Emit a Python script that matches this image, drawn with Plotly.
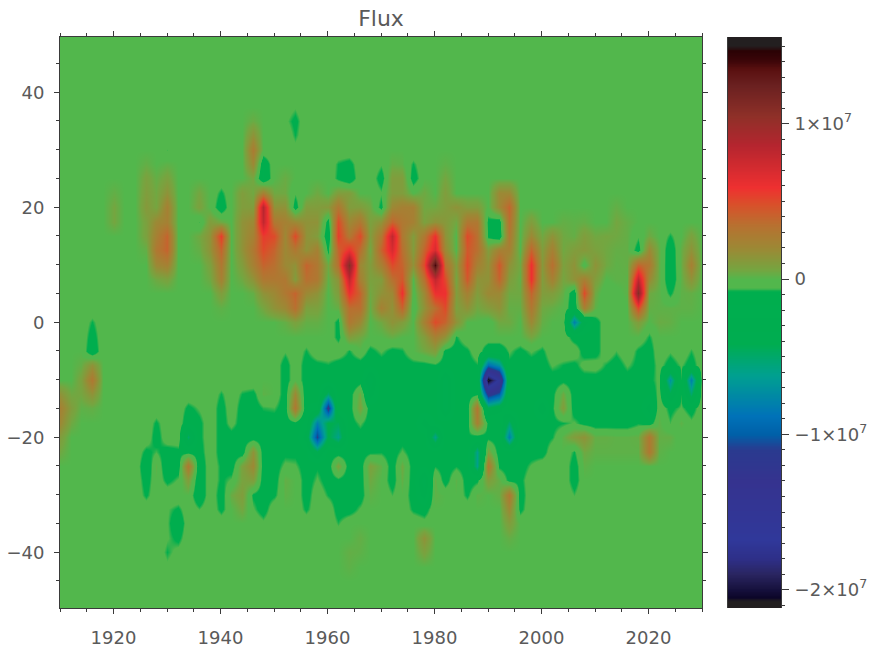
import numpy as np
import plotly.graph_objects as go

years = list(range(1910, 2032, 2))
lats = [50, 47.5, 45, 42.5, 40] + [37.5 - 2.5 * i for i in range(33)] + [-45, -47.5, -50]

# Flux in units of 1e6. Columns: 1910..2028 every 2 years, rows: latitude 37.5 .. -42.5
flux_rows = [
 # 37.5
 [0,0,0,0,0,0,0,0,0,0, 0,0,0,0,0,0,0,0,0,0, 0,-.2,-.5,0,0,0,0,0,0,0, 0,0,0,0,0,0,0,0,0,0, 0,0,0,0,0,0,0,0,0,0, 0,0,0,0,0,0,0,0,0,0],
 # 35
 [0,0,0,0,0,0,0,0,0,0, 0,0,0,0,0,0,0,0,.4,0, 0,-.4,-1,0,0,0,0,0,0,0, 0,0,0,0,0,0,0,0,0,0, 0,0,0,0,0,0,0,0,0,0, 0,0,0,0,0,0,0,0,0,0],
 # 32.5
 [0,0,0,0,0,0,0,0,0,0, 0,0,0,0,0,0,0,0,1.5,0, 0,0,-.8,0,0,0,0,0,0,0, 0,0,0,0,0,0,0,0,0,0, 0,0,0,0,0,0,0,0,0,0, 0,0,0,0,0,0,0,0,0,0],
 # 30
 [0,0,0,0,0,0,0,0,0,0, -.6,0,0,0,0,0,0,0,2.8,0, 0,0,-.3,0,0,0,0,0,0,0, 0,0,0,0,0,0,0,0,0,0, 0,0,0,0,0,0,0,0,0,0, 0,0,0,0,0,0,0,0,0,0],
 # 27.5
 [0,0,0,0,0,0,0,0,.3,0, .2,0,0,0,0,0,0,0,2,-1.6, 0,0,0,0,0,0,-.8,-1.1,0,0, -.5,.3,.2,-.8,0,0,.2,0,0,0, 0,0,0,0,0,0,0,0,0,0, 0,0,0,0,0,0,0,0,0,0],
 # 25
 [0,0,0,0,0,0,0,0,.8,.3, .8,0,0,0,0,0,0,0,.6,-1.8, 0,.4,0,0,0,0,-.9,-1.5,0,0, -1.2,1,1,-1.2,0,0,.6,0,0,0, 0,0,0,0,0,0,0,0,0,0, 0,0,0,0,0,0,0,0,0,0],
 # 22.5
 [0,0,0,0,0,.3,0,0,1,.5, 1.5,0,0,.6,0,-.9,0,1,.5,2.5, .5,.5,-.5,0,.5,0,1,1,0,0, -.5,1,1,0,.5,0,1,0,0,0, 0,2,2,0,0,0,0,0,0,0, 0,0,0,0,0,0,0,0,0,0],
 # 20
 [0,0,0,0,0,.6,0,0,1.2,.6, 2.5,0,0,.8,0,-1.4,0,1,1,8.5, 1.5,1.5,-1.2,1,1,1.2,3,1,1,.5, -1,2,2.5,2.5,.5,.5,1,1.5,1,1, 0,2,4,0,0,0,0,0,0,0, 0,0,.3,0,0,0,0,0,0,0],
 # 17.5
 [0,0,0,0,0,.6,0,0,.8,2, 2.5,0,0,-.6,1,.5,0,1.5,2,8, 3,2.5,2,1.5,1.5,-1.2,5,2,3,.8, 1.5,4,3,2.5,.8,1.5,1.2,.5,3,3, -1,-1.4,3.5,0,1,0,0,.3,.2,.3, 0,0,.6,.3,0,0,0,0,0,0],
 # 15
 [0,0,0,0,0,0,0,0,.8,2.5, 4,0,0,.5,1.5,5.5,0,1.5,2.5,5.5, 5,2,5,1.5,1,-1.6,5.5,3,5,1, 3,8,3,1,3,6,1.5,0,5,3.5, -.9,-1.6,3,0,2,.5,1.5,.5,.3,1, .5,.6,.5,.3,-.5,.5,0,-.8,0,.8],
 # 12.5
 [0,0,0,0,0,0,0,0,.3,3, 4,0,0,.3,1.5,4,0,1.5,3,5, 4,2,3,1.5,2.5,-1,4,6,3.5,.5, 4,7,3.5,1,4,7,2,0,4.5,3.5, 1,2.5,2.5,0,4,1,2.5,.5,1,1.2, .8,.5,.3,.3,-1.2,2,.3,-1.5,.3,1.5],
 # 10
 [0,0,0,0,0,0,0,0,0,2, 2.5,0,0,0,.8,3,0,1,2.5,4, 3.5,2,1.5,4,3,.5,3.5,11,2,1, 2.5,5,4,1.5,5,14,3.5,1,5,2.5, 1.5,4.5,1.5,.5,6,1.2,3.5,.8,1.5,-.3, 1.5,.5,.2,.3,4,3,.3,-1.6,.3,2.5],
 # 7.5
 [0,0,0,0,0,0,0,0,0,.5, .8,0,0,0,.5,2.5,0,.5,1.5,3, 3,3,1,3.5,3,.2,1.5,8,2.5,.8, 1,3.5,4.5,0,3.5,8,5,.6,4.5,1.5, 1.5,4,1,.3,6,1,2.5,.6,1.5,2.5, 1,0,.2,.2,8,2,.3,-1.6,.2,1.5],
 # 5
 [0,0,0,-.4,0,0,0,0,0,0, 0,0,0,0,0,1,0,0,.3,1.5, 2,3,4,2,1.5,0,1,6,4,.5, 1.5,2,6,-.3,2,6,6,1,2.5,1, 2,2,.5,.5,4,1,1,.3,-1.5,5, .5,-.5,-.2,.2,11,.5,.2,-.9,.2,.3],
 # 2.5
 [0,0,0,0,0,0,0,0,0,0, 0,0,0,0,0,.2,0,0,0,.6, 1.5,2,3.5,.8,.8,0,.3,3.5,3.5,.3, 2.5,1.5,4,-.5,1.5,3.5,5,.8,1.5,.5, 1,1.5,.3,.3,3,.5,.3,0,-1.6,2.5, .2,-.5,-.4,0,5,.3,.2,.2,.2,.2],
 # 0
 [0,0,0,-.8,0,0,0,0,0,0, 0,0,0,0,0,0,0,0,0,0, 0,.3,.8,.3,.3,0,-1,3,2,0, .5,1.5,1,0,2.5,5,4,1.5,0,0, -.3,.5,.5,0,2,.3,0,0,-8,-3, -1.2,0,0,0,1,0,.4,.3,0,0],
 # -2.5
 [0,0,0,-1.2,0,0,0,0,0,0, 0,0,0,0,0,0,0,0,0,0, 0,0,0,0,0,0,-1,1,.5,0, 0,.3,0,0,1,2.5,1.5,-.8,0,0, 0,0,0,0,.6,0,0,0,-1.2,-1.2, -1.2,0,0,0,0,-.8,0,0,0,0],
 # -5
 [0,0,0,-1.5,0,0,0,0,0,0, 0,0,0,0,0,0,0,0,0,0, 0,-.5,0,-.8,0,0,0,-.8,0,-1, -.5,-1,-.8,0,.5,1,-1,-1.2,-.9,0, -1.6,-1.6,-.5,-1,-.5,-.9,0,0,0,-1.2, -1.2,0,-.6,0,-.9,-1.2,0,-.5,0,-.7],
 # -7.5
 [0,0,.3,1.5,0,0,0,0,0,0, 0,0,0,0,0,0,0,0,0,0, 0,-1.2,0,-1.2,-1,-.8,-1.2,-1.2,-1.2,-1.5, -1.2,-1.2,-1.2,-1,-1,-.8,-1.2,-1.2,-1.2,-.8, -9,-7,-1,-1.2,-1.2,-1.2,-.5,-.8,-1,-.3, -.2,-.8,-1.2,-.5,-1,-1.2,-.3,-1.2,-.5,-1.2],
 # -10
 [0,0,.8,3,0,0,0,0,0,0, 0,0,0,0,0,0,0,0,0,0, 0,-1.2,0,-1.2,-1.2,-1.2,-1.2,-1.6,-1.2,-4, -1.2,-1.2,-1.2,-1.2,-1.2,-1.2,-4,-1.2,-1.2,-.9, -21,-16,-1.2,-1.2,-1.2,-1.2,-1.2,-1,-1.2,-1.2, -1.2,-1.2,-1.2,-1.2,-1.2,-1,-.4,-7,-.8,-8],
 # -12.5
 [1.5,.5,.6,1.5,0,0,0,0,0,0, 0,0,0,0,0,-.8,0,-.8,-1,.2, 0,-1.2,2,-1.6,-1.2,-5,-1.2,-1.2,.5,-3, -1.2,-1.2,-1.4,-1.2,-1.2,-1.2,-4,-1.2,-1.2,-.9, -12,-10,-1.2,-1.2,-1.2,-1.2,-1,.5,-1.2,-1.2, -1.2,-1.2,-1.2,-1.2,-1.2,-1.6,-.3,-4,-.8,-5],
 # -15
 [2.5,1,.2,.3,0,0,0,0,0,0, 0,0,-1,-.5,0,-1.2,0,-1.2,-1.2,-.7, -.6,-1.2,3,-1.6,-2,-12,-1.2,-1.2,.8,-1.2, -1.2,-1.2,-1.2,-1.2,-1.2,-1.2,-4,-1.2,-1.2,3, -4,-3,-1.2,-1.2,-1.2,-3.5,-.9,1,-1.2,-1.2, -1.2,-1.2,-1.2,-1.2,-1.2,-3,0,-1,-.5,-1.2],
 # -17.5
 [2,.5,0,0,0,0,0,0,0,-.9, 0,0,-1.6,-1,0,-1.2,-.3,-1.2,-1.2,-1.2, -1.2,-1.2,-1,-2,-8,-4,-4.5,-1.2,-.5,-1.2, -1.2,-1.2,-1.2,-1.2,-3,-1.6,-1.2,-1.2,-1.2,2.5, -1,-1.2,-5,-1.2,-1.2,-1.2,-1,-.8,-.5,-1, -1.2,-1.2,-1.2,-1.2,-.8,-1.2,.2,-.6,.2,-.4],
 # -20
 [1,0,0,0,0,0,0,0,0,-1.2, 0,0,-5,-1,0,-1.2,-1.2,-1.2,-1.2,-1.2, -1.2,-1.2,-1.2,-3,-11,-4,-6,-1.2,-1.2,-1.2, -1.2,-1.2,-1.2,-1.2,-1.2,-6,-1.2,-1.2,-.8,-1.2, -1,-1.2,-8,-1.2,-1.2,-1.2,-.8,.2,1,1.5, .3,.3,.2,.2,.3,3,.3,.3,-.3,0],
 # -22.5
 [.5,0,0,0,0,0,0,0,-1,-.6, -1.2,-1,-1,-1.2,0,-1.2,-1.2,-1.2,1.5,-1.2, -1.2,-1,-1,-1.5,-4,-1.2,-1.2,-1.2,-1.2,-.9, -.8,-1.2,-.5,-1.2,-1.2,-1.2,-1.2,-1.2,-1.2,-6, .8,-1.2,-1.2,-1.2,-1.2,-1.2,0,0,-.8,.5, .2,.2,.2,.2,.2,3,.2,0,0,0],
 # -25
 [0,0,0,0,0,0,0,0,-1.6,.2, -1.6,-1.2,3,-1.6,0,-.9,-1.2,.8,2,-1.2, -1.2,-.4,-.5,-1.2,-.9,-1.2,.8,-1.2,-1.2,.8, .2,-1.2,.5,-1.2,-1.6,-.8,-1.2,-.8,-1.2,-6, 3,-.9,-1.2,-1.2,-.5,0,0,0,-1.2,.2, 0,0,0,0,0,0,0,0,0,0],
 # -27.5
 [0,0,0,0,0,0,0,0,-1.2,0, -1,-.5,1,-1.6,0,-.9,-.5,.7,1,-1.2, -1.2,.3,0,-1.2,-.5,-1.2,-.9,-1.2,-1.2,.5, 0,-1.2,.3,-1.2,-4,.3,-1.2,.2,-1.2,-.9, 1,.3,-1,-1,0,0,0,0,-1.2,0, 0,0,0,0,0,0,0,0,0,0],
 # -30
 [0,0,0,0,0,0,0,0,-.9,0, 0,0,0,-1.6,0,-1.2,.4,1,-.9,-1.2, -.9,.2,0,-1.2,0,-.8,-1.2,-1.2,-1.2,.2, 0,-.6,0,-1.2,-3,.2,0,0,-.9,.2, 0,.3,3,-1.2,0,0,0,0,-.6,0, 0,0,0,0,0,0,0,0,0,0],
 # -32.5
 [0,0,0,0,0,0,0,0,0,0, -.5,-.9,0,-.6,0,-1,0,.6,-.5,-1.2, 0,0,0,-.9,0,0,-1.2,-1.2,-.5,0, 0,0,0,-.9,-1.2,0,0,0,0,0, 0,0,2,-1,0,0,0,0,0,0, 0,0,0,0,0,0,0,0,0,0],
 # -35
 [0,0,0,0,0,0,0,0,0,0, -.5,-1.6,0,0,0,0,0,0,0,-.4, 0,0,0,0,0,0,-.7,0,0,0, 0,0,0,0,-.3,0,0,0,0,0, 0,0,1,0,0,0,0,0,0,0, 0,0,0,0,0,0,0,0,0,0],
 # -37.5
 [0,0,0,0,0,0,0,0,0,0, -.5,-1,0,0,0,0,0,0,0,0, 0,0,0,0,0,0,0,0,.3,0, 0,0,0,0,1.5,0,0,0,0,0, 0,0,.3,0,0,0,0,0,0,0, 0,0,0,0,0,0,0,0,0,0],
 # -40
 [0,0,0,0,0,0,0,0,0,0, -.8,-.3,0,0,0,0,0,0,0,0, 0,0,0,0,0,0,0,.3,.2,0, 0,0,0,0,.8,0,0,0,0,0, 0,0,0,0,0,0,0,0,0,0, 0,0,0,0,0,0,0,0,0,0],
 # -42.5
 [0,0,0,0,0,0,0,0,0,0, -.4,0,0,0,0,0,0,0,0,0, 0,0,0,0,0,0,0,.2,0,0, 0,0,0,0,0,0,0,0,0,0, 0,0,0,0,0,0,0,0,0,0, 0,0,0,0,0,0,0,0,0,0],
]

cbar_min, cbar_max = -21.18, 15.58
color_stops = [
 (-21.18, "#231f20"), (-20.75, "#231f20"), (-20.5, "#0c0628"), (-20.0, "#15103c"), (-19.0, "#2a2560"),
 (-18.0, "#2e2f88"), (-16.8, "#30389a"), (-13.0, "#35338f"), (-11.0, "#2a3a8f"), (-10.0, "#0060a8"),
 (-8.8, "#0072b8"), (-6.2, "#00a090"), (-4.2, "#00ad50"), (-0.8, "#00ae4e"), (-0.55, "#52b74c"),
 (0.0, "#52b74c"), (0.6, "#75a540"), (1.9, "#9a8a35"), (3.5, "#b87030"), (4.8, "#d9502a"),
 (5.9, "#ee3030"), (8.6, "#b5252f"), (10.5, "#8e3028"), (12.5, "#6a2020"), (13.5, "#5a1010"),
 (14.1, "#3a0508"), (14.7, "#2a0204"), (15.0, "#231f20"), (15.58, "#231f20"),
]
colorscale = [[(v - cbar_min) / (cbar_max - cbar_min), c] for v, c in color_stops]

cbar_major = [-20, -10, 0, 10]
cbar_labels = ["\u22122\u00d710<sup>7</sup>", "\u22121\u00d710<sup>7</sup>", "0", "1\u00d710<sup>7</sup>"]
y_major = [-40, -20, 0, 20, 40]
y_labels = ["\u221240", "\u221220", "0", "20", "40"]
x_major = [1920, 1940, 1960, 1980, 2000, 2020]

z = [[0.0] * 61 for _ in range(5)] + [r + [0.0] for r in flux_rows] + [[0.0] * 61 for _ in range(3)]
ramp_vals = list(np.arange(cbar_min, cbar_max + 0.05, 0.05))

FONT = dict(family="DejaVu Sans", size=18, color="#5a5a5a")
LINE = "#3a3a3a"
W, H = 870, 647
L, R, T, B = 60, 781, 37, 608
PW = R - L

fig = go.Figure()
fig.add_trace(go.Heatmap(x=years, y=lats, z=z, zmin=cbar_min, zmax=cbar_max, colorscale=colorscale,
                         zsmooth="best", showscale=False, hoverinfo="skip", xaxis="x", yaxis="y"))
fig.add_trace(go.Heatmap(x=[0, 1], y=ramp_vals, z=[[v, v] for v in ramp_vals], zmin=cbar_min, zmax=cbar_max,
                         colorscale=colorscale, zsmooth="best", showscale=False, hoverinfo="skip",
                         xaxis="x2", yaxis="y2"))

fig.update_layout(
    width=W, height=H, autosize=False,
    margin=dict(l=L, r=W - R, t=T, b=H - B, pad=0),
    paper_bgcolor="white", plot_bgcolor="white", font=FONT, showlegend=False,
    title=dict(text="Flux", x=381 / W, xref="container", xanchor="center",
               y=1 - 18 / H, yanchor="middle", font=dict(family="DejaVu Sans", size=22, color="#5a5a5a")),
    xaxis=dict(domain=[0, 642 / PW], range=[1910, 2030], tickmode="array", tickvals=x_major, automargin=False,
               ticks="outside", ticklen=5, tickcolor=LINE, showgrid=False, zeroline=False,
               showline=True, linecolor=LINE, linewidth=1, mirror="ticks", ticklabelstandoff=8,
               minor=dict(tickmode="array", tickvals=list(range(1910, 2031, 5)), ticks="outside", ticklen=3, tickcolor=LINE, showgrid=False)),
    yaxis=dict(range=[-49.7, 49.6], tickmode="array", tickvals=y_major, ticktext=y_labels, automargin=False,
               ticks="outside", ticklen=5, tickcolor=LINE, showgrid=False, zeroline=False,
               showline=True, linecolor=LINE, linewidth=1, mirror="ticks", ticklabelstandoff=6,
               minor=dict(tickmode="array", tickvals=list(range(-45, 50, 5)), ticks="outside", ticklen=3, tickcolor=LINE, showgrid=False)),
    xaxis2=dict(domain=[668 / PW, 1], range=[0, 1], anchor="y2", showticklabels=False, ticks="", automargin=False,
                showgrid=False, zeroline=False, showline=False),
    yaxis2=dict(anchor="x2", side="right", range=[cbar_min, cbar_max], tickmode="array", automargin=False,
                tickvals=cbar_major, ticktext=cbar_labels, ticks="outside", ticklen=7, tickcolor=LINE,
                showgrid=False, zeroline=False, showline=True, linecolor=LINE, linewidth=1, mirror=True,
                ticklabelstandoff=2,
                minor=dict(tickmode="array", tickvals=list(range(-21, 16)), ticks="outside", ticklen=3, tickcolor=LINE, showgrid=False)),
)
fig.write_html("out.html", config={"displayModeBar": False}, post_script="document.body.style.margin='0';")
